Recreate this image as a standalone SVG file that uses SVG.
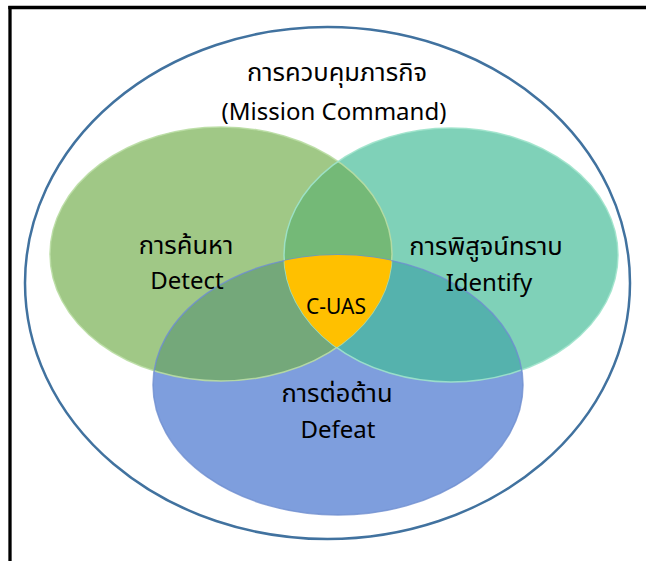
<svg xmlns="http://www.w3.org/2000/svg" width="646" height="561" viewBox="0 0 646 561">
  <style>
    .t { font-family: "Noto Sans", "Noto Sans Thai", "DejaVu Sans", sans-serif; fill: #000; text-anchor: middle; }
    .th { font-size: 25.5px; }
    .en { font-size: 24px; }
    .edge { fill: none; stroke-width: 1.5; }
  </style>
  <defs>
    <clipPath id="cG"><ellipse cx="221" cy="254" rx="171" ry="127"/></clipPath>
    <clipPath id="cT"><ellipse cx="451" cy="255" rx="167" ry="127"/></clipPath>
  </defs>
  <rect x="0" y="0" width="646" height="561" fill="#fff"/>
  <g id="frame" stroke="#000" stroke-width="3.3" fill="none">
    <line x1="8.3" y1="7.5" x2="646" y2="7.5"/>
    <line x1="10" y1="6" x2="10" y2="561"/>
  </g>
  <g id="mission-command">
    <ellipse cx="327.5" cy="283" rx="302.5" ry="256" fill="none" stroke="#41729F" stroke-width="2.5"/>
    <text class="t th" x="337" y="81">การควบคุมภารกิจ</text>
    <text class="t en" x="334" y="120">(Mission Command)</text>
  </g>
  <g id="detect">
    <ellipse cx="221" cy="254" rx="171" ry="127" fill="#A0C886"/>
  </g>
  <g id="identify">
    <ellipse cx="451" cy="255" rx="167" ry="127" fill="#7FD1B8"/>
  </g>
  <g id="defeat">
    <ellipse cx="338" cy="385" rx="185" ry="130" fill="#7E9EDD"/>
  </g>
  <g id="overlaps">
    <ellipse cx="451" cy="255" rx="167" ry="127" fill="#74B977" clip-path="url(#cG)"/>
    <ellipse cx="338" cy="385" rx="185" ry="130" fill="#74A87A" clip-path="url(#cG)"/>
    <ellipse cx="338" cy="385" rx="185" ry="130" fill="#55B2AD" clip-path="url(#cT)"/>
  </g>
  <g id="edges">
    <ellipse class="edge" cx="221" cy="254" rx="171" ry="127" stroke="#B9DDA3" opacity="0.9"/>
    <ellipse class="edge" cx="451" cy="255" rx="167" ry="127" stroke="#9FE3CB" opacity="0.9"/>
    <ellipse class="edge" cx="338" cy="385" rx="185" ry="130" stroke="#6F8FCF" opacity="0.8"/>
  </g>
  <g id="c-uas">
    <g clip-path="url(#cG)">
      <ellipse cx="338" cy="385" rx="185" ry="130" fill="#FFC000" clip-path="url(#cT)"/>
    </g>
    <text class="t" x="336" y="314" font-size="21">C-UAS</text>
  </g>
  <g id="labels">
    <text class="t th" x="186" y="254">การค้นหา</text>
    <text class="t en" x="187" y="289">Detect</text>
    <text class="t th" x="486" y="255">การพิสูจน์ทราบ</text>
    <text class="t en" x="489" y="291">Identify</text>
    <text class="t th" x="337" y="402">การต่อต้าน</text>
    <text class="t en" x="338" y="438">Defeat</text>
  </g>
</svg>
